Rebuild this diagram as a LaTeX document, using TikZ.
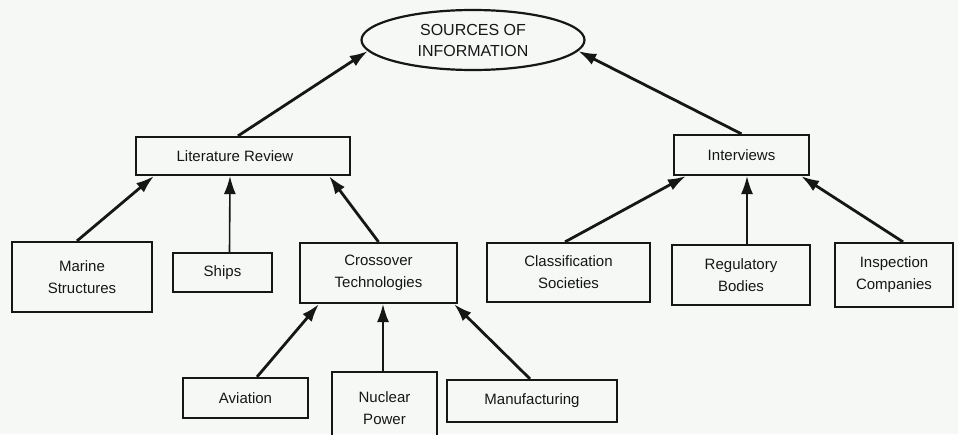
\documentclass[tikz,border=0pt]{standalone}
\usepackage{fontspec}
\setmainfont{Liberation Sans}
\usetikzlibrary{shapes.geometric,arrows.meta}
\definecolor{bgc}{RGB}{246,248,246}
\definecolor{ink}{RGB}{22,22,22}
\tikzset{
  box/.style={draw=ink, line width=2.2pt, rectangle, inner sep=0pt, align=center,
    font=\fontsize{15}{22}\selectfont, text=ink},
  conn/.style={draw=ink, line width=2.8pt, -{Latex[length=18pt,width=12pt]}},
  thinconn/.style={draw=ink, line width=1.6pt, -{Latex[length=18pt,width=12pt]}},
}
\begin{document}
\begin{tikzpicture}[x=1pt,y=-1pt]
\fill[bgc] (0,0) rectangle (958,434);
\useasboundingbox (0,0) rectangle (958,434);

\node[draw=ink, line width=2.2pt, ellipse, minimum width=223pt, minimum height=60pt, inner sep=0pt,
      align=center, font=\fontsize{16}{21}\selectfont, text=ink] (src) at (473,40) {SOURCES OF\\INFORMATION};

\node[box, minimum width=214pt, minimum height=38pt] (lit) at (243,156) {Literature Review\hspace*{16pt}};
\node[box, minimum width=135pt, minimum height=40pt] (int) at (741.5,155) {Interviews};

\node[box, minimum width=140pt, minimum height=70pt] (marine) at (82,277) {Marine\\Structures};
\node[box, minimum width=99pt, minimum height=39pt] (ships) at (222.5,272.5) {Ships};
\node[box, minimum width=157pt, minimum height=60pt] (cross) at (378.5,273) {Crossover\\Technologies};
\node[box, minimum width=163pt, minimum height=59pt] (class) at (568.5,272.5) {Classification\\Societies};
\node[box, minimum width=138pt, minimum height=60pt] (reg) at (741,275) {Regulatory\\Bodies};
\node[box, minimum width=118pt, minimum height=64pt] (insp) at (894,275) {Inspection\\Companies};

\node[box, minimum width=125pt, minimum height=40pt] (avi) at (245.5,398) {Aviation};
\node[box, minimum width=105pt, minimum height=73pt] (nuc) at (384.5,408.5) {Nuclear\\Power};
\node[box, minimum width=170pt, minimum height=42pt] (manu) at (532,401) {Manufacturing};

\draw[conn] ([xshift=-5pt]lit.north) -- (src.186);
\draw[conn] (int.north) -- (src.354);

\draw[conn] ([xshift=-5pt]marine.north) -- ([xshift=19pt]lit.south west);
\draw[thinconn] ([xshift=7pt]ships.north) -- ([xshift=-13pt]lit.south);
\draw[conn] (cross.north) -- ([xshift=-22pt]lit.south east);

\draw[conn] ([xshift=-3.5pt]class.north) -- ([xshift=13pt]int.south west);
\draw[thinconn] ([xshift=6pt]reg.north) -- ([xshift=5.5pt]int.south);
\draw[conn] ([xshift=9pt]insp.north) -- ([xshift=-9pt]int.south east);

\draw[conn] ([xshift=11.5pt]avi.north) -- ([xshift=20pt]cross.south west);
\draw[thinconn] ([xshift=-1.5pt]nuc.north) -- ([xshift=4.5pt]cross.south);
\draw[conn] ([xshift=-2pt]manu.north) -- ([xshift=-4pt]cross.south east);
\end{tikzpicture}
\end{document}
